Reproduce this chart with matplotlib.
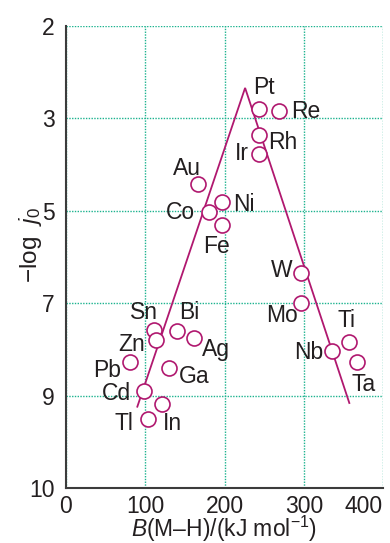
import numpy as np
import matplotlib
matplotlib.use("Agg")
import matplotlib.pyplot as plt
from matplotlib.ticker import FixedLocator

plt.rcParams["font.family"] = ["Liberation Sans", "DejaVu Sans"]
plt.rcParams["mathtext.fontset"] = "custom"
plt.rcParams["mathtext.rm"] = "Liberation Sans"
plt.rcParams["mathtext.it"] = "Liberation Sans:italic"
plt.rcParams["mathtext.bf"] = "Liberation Sans:bold"

# Metal–hydrogen bond enthalpy vs exchange current density
metals = ["Pt", "Re", "Rh", "Ir", "Au", "Ni", "Co", "Fe", "W", "Mo",
          "Ti", "Nb", "Ta", "Ag", "Bi", "Sn", "Zn", "Pb", "Ga", "Cd",
          "In", "Tl"]
bond_enthalpy = [243, 269, 243, 243, 167, 197, 180, 197, 297, 297,
                 357, 336, 367, 161, 140, 111, 114, 81, 130, 98,
                 121, 103]
neg_log_j0 = [2.90, 2.92, 3.36, 3.77, 4.42, 4.82, 5.03, 5.31, 6.35, 7.00,
              7.85, 8.03, 8.27, 7.75, 7.60, 7.59, 7.80, 8.27, 8.41, 8.90,
              9.09, 9.25]

# Volcano trend lines
trend_b = [90, 226, 357.5]
trend_logj = [9.12, 2.67, 9.08]

y_ticks = [2, 3, 5, 7, 9, 10]
x_ticks = [0, 100, 200, 300, 400]

# label placement relative to each marker (pixels, ha)
label_pos = {
    "Pt": (5, 22, "center"), "Re": (12, 0, "left"), "Rh": (10, -7, "left"),
    "Ir": (-10, 0, "right"), "Au": (-11, 16, "center"), "Ni": (11, -2, "left"),
    "Co": (-14, 0, "right"), "Fe": (-6, -21, "center"), "W": (-9, 3, "right"),
    "Mo": (-3, -12, "right"), "Ti": (-2, 22, "center"), "Nb": (-9, -2, "right"),
    "Ta": (7, -23, "center"), "Ag": (8, -12, "left"), "Bi": (12, 18, "center"),
    "Sn": (-10, 18, "center"), "Zn": (-11, -4, "right"), "Pb": (-9, -9, "right"),
    "Ga": (10, -8, "left"), "Cd": (-13, -3, "right"), "In": (1, -20, "left"),
    "Tl": (-14, -5, "right"),
}

MAGENTA = "#b0186f"
GRID = "#1db38f"
TEXT = "#231f20"
SPINE = "#3c3c3c"
FS = 16.5

fig = plt.figure(figsize=(3.9, 5.43), dpi=100)
ax = fig.add_axes([66 / 390, 55 / 543, 317 / 390, 462 / 543])

# tick values are drawn at equal spacing
tick_pos = np.arange(len(y_ticks), dtype=float)
tick_val = np.array(y_ticks, dtype=float)
ax.set_yscale("function",
              functions=(lambda v: np.interp(v, tick_val, tick_pos),
                         lambda p: np.interp(p, tick_pos, tick_val)))
ax.set_ylim(10, 2)
ax.set_xlim(0, 400)
ax.yaxis.set_major_locator(FixedLocator(y_ticks))
ax.yaxis.set_minor_locator(FixedLocator([]))
ax.set_yticklabels([str(t) for t in y_ticks])
ax.set_xticks(x_ticks)
ax.set_xticklabels([str(t) for t in x_ticks])
ax.get_xticklabels()[-1].set_ha("right")

ax.grid(True, color=GRID, linestyle=(0, (1, 1)), linewidth=1.0, zorder=0)
for s in ["top", "right"]:
    ax.spines[s].set_visible(False)
for s in ["left", "bottom"]:
    ax.spines[s].set_color(SPINE)
    ax.spines[s].set_linewidth(1.5)
    ax.spines[s].set_zorder(3)

ax.tick_params(length=0, labelsize=FS, colors=TEXT)
ax.tick_params(axis="x", pad=5)
ax.tick_params(axis="y", pad=8)

ax.plot(trend_b, trend_logj, color=MAGENTA, linewidth=1.3, zorder=2,
        solid_joinstyle="miter")
ax.plot(bond_enthalpy, neg_log_j0, linestyle="none", marker="o",
        markersize=10.8, markerfacecolor="white", markeredgecolor=MAGENTA,
        markeredgewidth=1.2, zorder=4, clip_on=False)

for name, bx, ly in zip(metals, bond_enthalpy, neg_log_j0):
    dx, dy, ha = label_pos[name]
    ax.annotate(name, (bx, ly), xytext=(dx, dy), textcoords="offset pixels",
                ha=ha, va="center", fontsize=FS, color=TEXT, zorder=5)

ax.set_xlabel(r"$B$(M–H)/(kJ mol$^{-1}$)", fontsize=FS, color=TEXT,
              va="center")
ax.xaxis.set_label_coords(0.5, -(529 - 488) / 462)
ax.set_ylabel(r"−log  $j_0$", fontsize=17.5, color=TEXT, va="center")
ax.yaxis.set_label_coords(-(66 - 30) / 317, (488 - 245) / 462)

fig.savefig("out.png", dpi=100)
